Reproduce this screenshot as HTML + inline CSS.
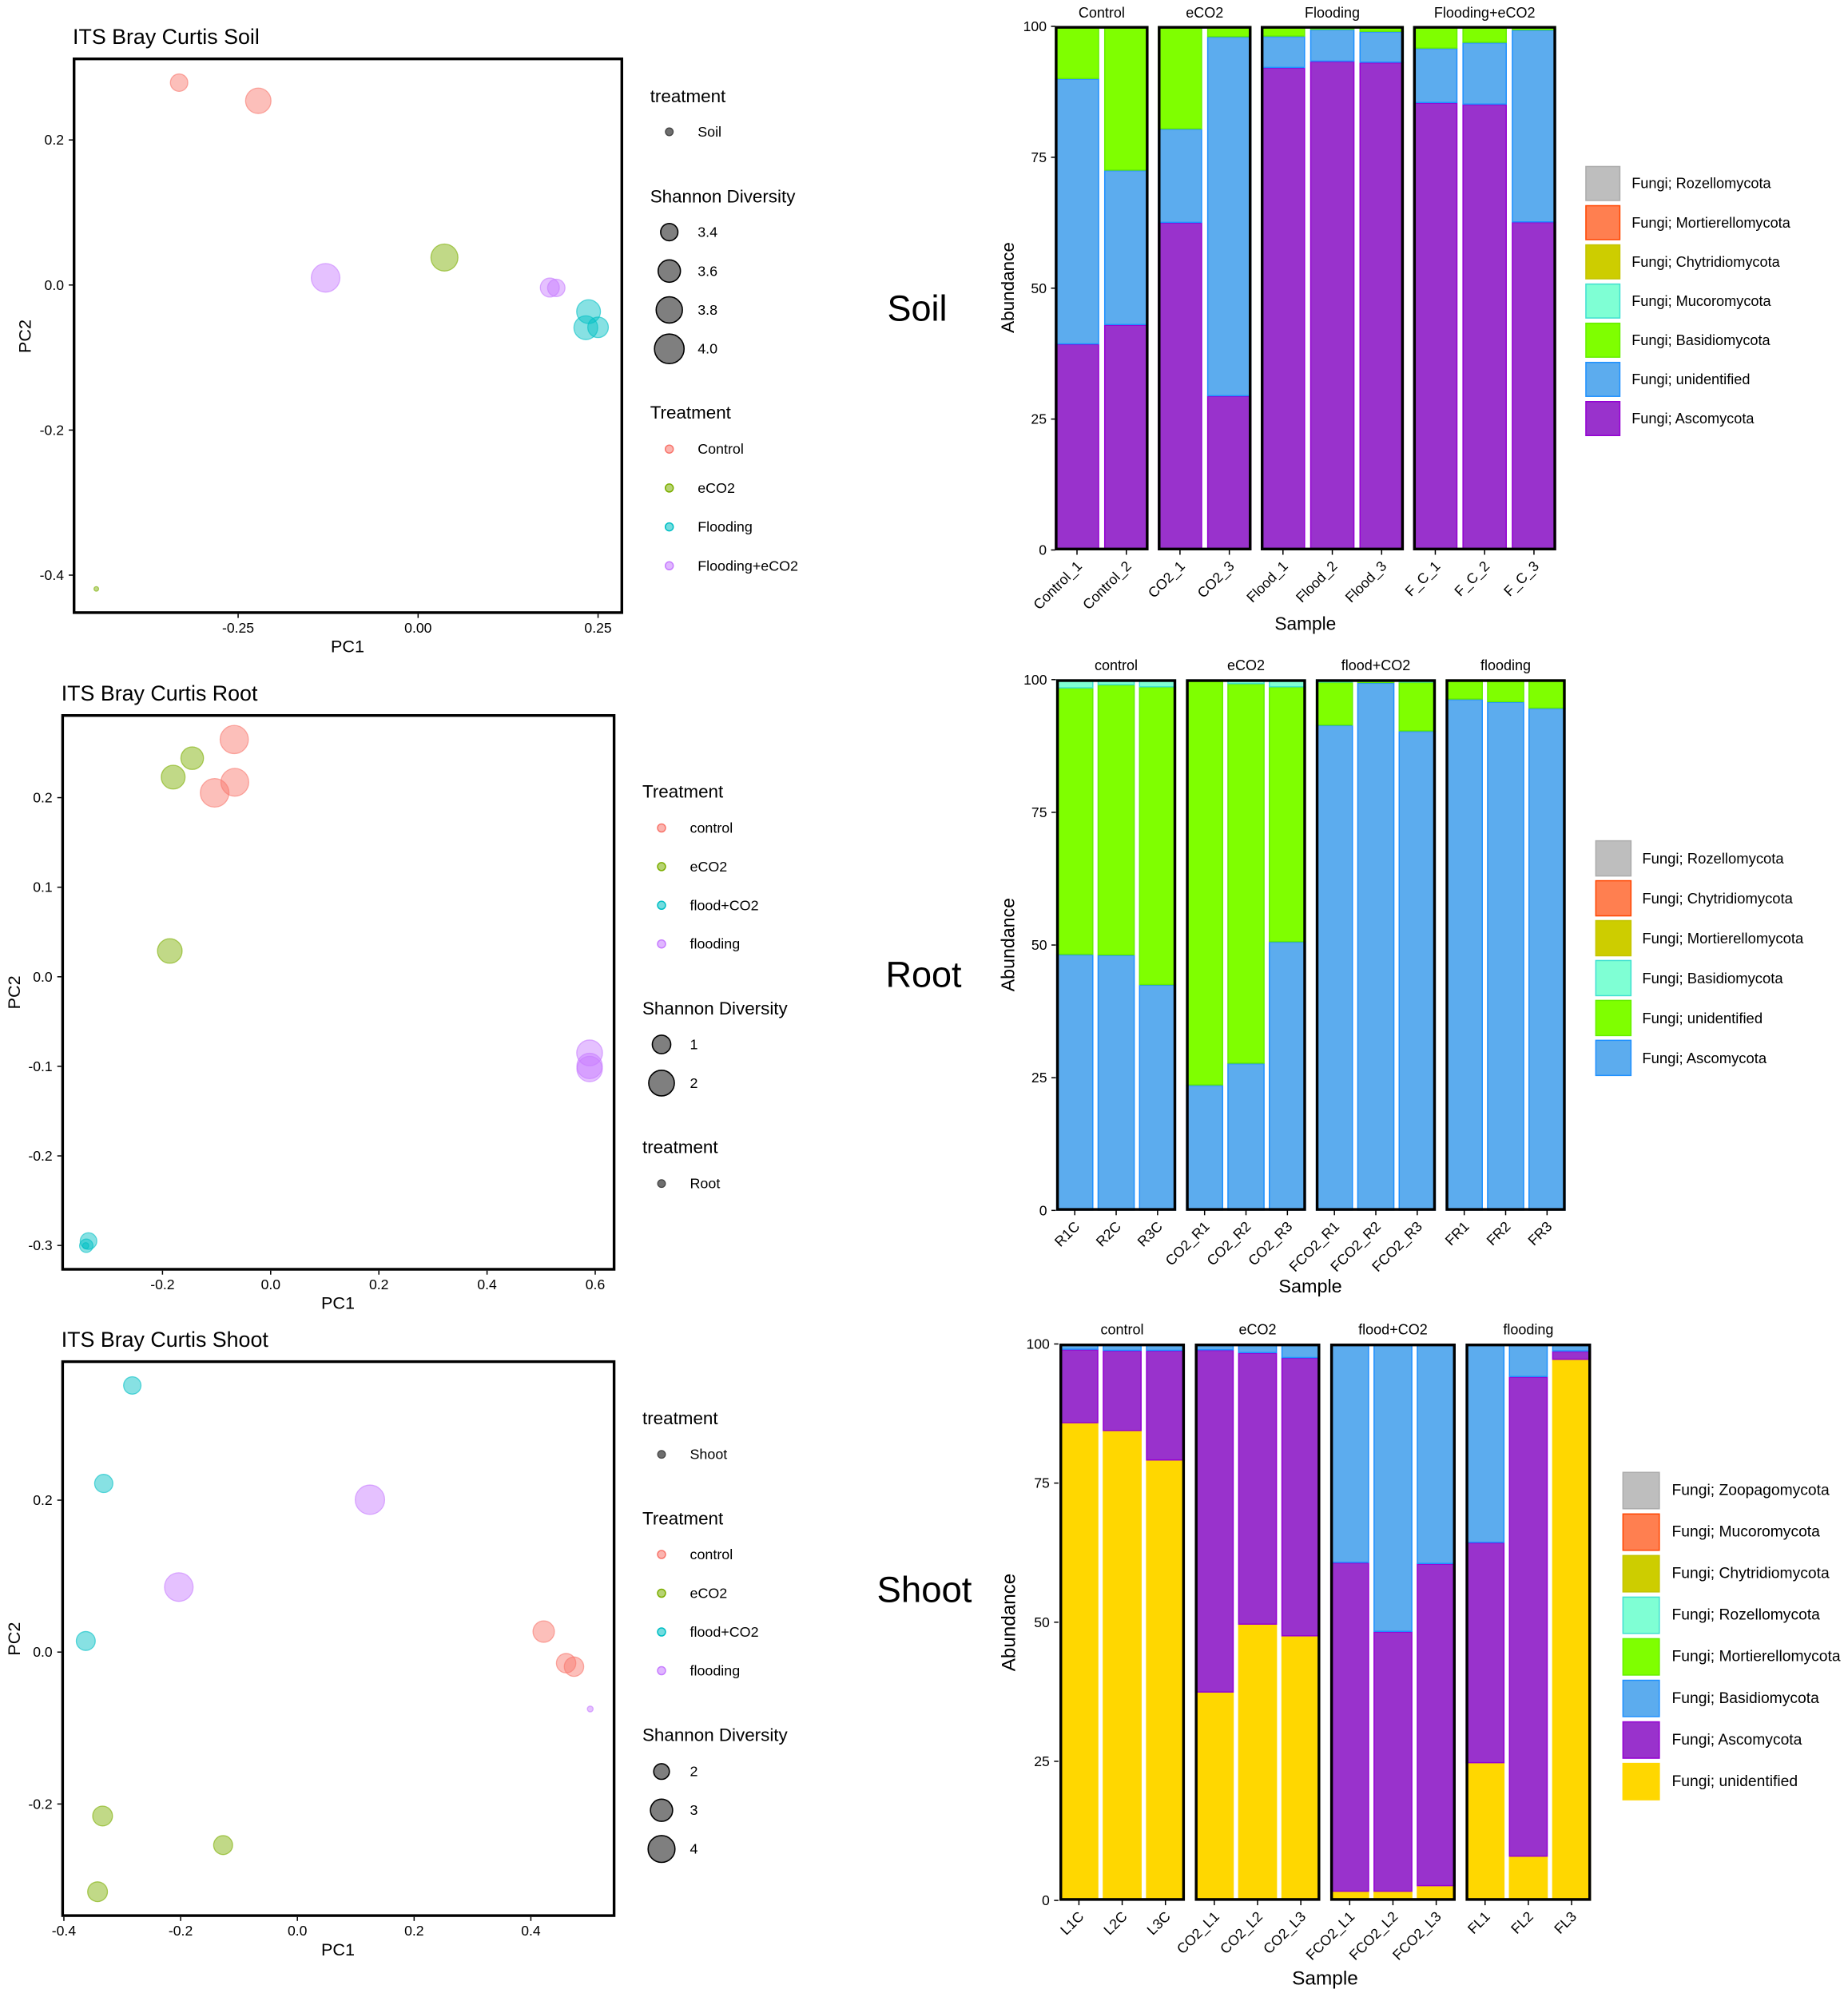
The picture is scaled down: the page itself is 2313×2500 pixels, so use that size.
<!DOCTYPE html>
<html lang="en">
<head>
<meta charset="utf-8">
<title>ITS Bray Curtis ordination and phylum abundance</title>
<style>
html,body{margin:0;padding:0;background:#fff;}
svg{display:block;}
text{font-family:"Liberation Sans",Arial,sans-serif;fill:#000;}
</style>
</head>
<body>
<svg id="figure" xmlns="http://www.w3.org/2000/svg" width="2313" height="2500" viewBox="0 0 2313 2500">
  <rect x="0" y="0" width="2313" height="2500" fill="#ffffff"/>
  <text x="1148" y="386" font-size="45" text-anchor="middle" dominant-baseline="central">Soil</text>
  <text x="1156" y="1220" font-size="45" text-anchor="middle" dominant-baseline="central">Root</text>
  <text x="1157" y="1990" font-size="45.5" text-anchor="middle" dominant-baseline="central">Shoot</text>
</svg>
<script>
// ---------- Soil PCoA ----------
const soilGroups = ['Control','Control','eCO2','eCO2','Flooding+eCO2','Flooding+eCO2','Flooding+eCO2','Flooding','Flooding','Flooding'];
const soilPc1 = [-0.332,-0.222,0.0366,-0.447,-0.1285,0.183,0.192,0.2368,0.233,0.25];
const soilPc2 = [0.279,0.254,0.0379,-0.419,0.0099,-0.0035,-0.004,-0.0367,-0.0589,-0.0583];
const soilShannon = [3.4,3.745,3.834,3.19,3.929,3.456,3.4,3.663,3.663,3.518];
const soilXTicks = [-0.25,0,0.25];
const soilXTickLabels = ['-0.25','0.00','0.25'];
const soilYTicks = [0.2,0,-0.2,-0.4];
const soilYTickLabels = ['0.2','0.0','-0.2','-0.4'];
const soilTreatments = ['Control','eCO2','Flooding','Flooding+eCO2'];
const soilShannonBreaks = [3.4,3.6,3.8,4.0];
const soilShannonLabels = ['3.4','3.6','3.8','4.0'];

// ---------- Root PCoA ----------
const rootGroups = ['control','control','control','eCO2','eCO2','eCO2','flooding','flooding','flooding','flood+CO2','flood+CO2','flood+CO2'];
const rootPc1 = [-0.0674,-0.0663,-0.1036,-0.1451,-0.1803,-0.1865,0.5896,0.5896,0.5896,-0.3368,-0.3409,-0.342];
const rootPc2 = [0.2649,0.2172,0.2054,0.2441,0.2229,0.0288,-0.085,-0.0996,-0.103,-0.2951,-0.3003,-0.3003];
const rootShannon = [2.425,2.35,2.5,1.505,1.68,1.805,2.0,1.934,1.934,0.795,0.532,0.237];
const rootXTicks = [-0.2,0,0.2,0.4,0.6];
const rootXTickLabels = ['-0.2','0.0','0.2','0.4','0.6'];
const rootYTicks = [0.2,0.1,0,-0.1,-0.2,-0.3];
const rootYTickLabels = ['0.2','0.1','0.0','-0.1','-0.2','-0.3'];
const rootTreatments = ['control','eCO2','flood+CO2','flooding'];
const rootShannonBreaks = [1,2];
const rootShannonLabels = ['1','2'];

// ---------- Shoot PCoA ----------
const shootGroups = ['flood+CO2','flood+CO2','flood+CO2','flooding','flooding','flooding','control','control','control','eCO2','eCO2','eCO2'];
const shootPc1 = [-0.2828,-0.3317,-0.3625,0.1243,-0.2031,0.5017,0.422,0.4604,0.4739,-0.3337,-0.1272,-0.3423];
const shootPc2 = [0.351,0.222,0.0146,0.2006,0.0856,-0.0749,0.027,-0.0146,-0.0192,-0.2158,-0.2541,-0.3155];
const shootShannon = [2.2,2.32,2.43,4.6,4.39,1.34,2.83,2.5,2.5,2.56,2.43,2.56];
const shootXTicks = [-0.4,-0.2,0,0.2,0.4];
const shootXTickLabels = ['-0.4','-0.2','0.0','0.2','0.4'];
const shootYTicks = [0.2,0,-0.2];
const shootYTickLabels = ['0.2','0.0','-0.2'];
const shootTreatments = ['control','eCO2','flood+CO2','flooding'];
const shootShannonBreaks = [2,3,4];
const shootShannonLabels = ['2','3','4'];

// ---------- Soil abundance ----------
const soilFacets = ['Control','eCO2','Flooding','Flooding+eCO2'];
const soilFacetSizes = [2,2,3,3];
const soilSamples = ['Control_1','Control_2','CO2_1','CO2_3','Flood_1','Flood_2','Flood_3','F_C_1','F_C_2','F_C_3'];
const soilAscomycota = [39.3,43,62.5,29.4,92.1,93.3,93.1,85.4,85.1,62.6];
const soilUnidentified = [50.7,29.5,17.9,68.6,6.0,6.1,5.9,10.4,11.8,36.7];
const soilBasidiomycota = [10,27.5,19.6,2,1.9,0.6,1,4.2,3.1,0.7];
const soilPhyla = ['Fungi; Rozellomycota','Fungi; Mortierellomycota','Fungi; Chytridiomycota','Fungi; Mucoromycota','Fungi; Basidiomycota','Fungi; unidentified','Fungi; Ascomycota'];

// ---------- Root abundance ----------
const rootFacets = ['control','eCO2','flood+CO2','flooding'];
const rootFacetSizes = [3,3,3,3];
const rootSamples = ['R1C','R2C','R3C','CO2_R1','CO2_R2','CO2_R3','FCO2_R1','FCO2_R2','FCO2_R3','FR1','FR2','FR3'];
const rootAscomycota = [48.2,48.1,42.5,23.6,27.7,50.6,91.4,99.4,90.3,96.3,95.8,94.6];
const rootUnidentified = [50.2,50.9,56.1,76.1,71.5,48,8.1,0.2,9.2,3.7,4.2,5.4];
const rootBasidiomycota = [1.6,1,1.4,0.3,0.8,1.4,0.5,0.4,0.5,0,0,0];
const rootPhyla = ['Fungi; Rozellomycota','Fungi; Chytridiomycota','Fungi; Mortierellomycota','Fungi; Basidiomycota','Fungi; unidentified','Fungi; Ascomycota'];

// ---------- Shoot abundance ----------
const shootFacets = ['control','eCO2','flood+CO2','flooding'];
const shootFacetSizes = [3,3,3,3];
const shootSamples = ['L1C','L2C','L3C','CO2_L1','CO2_L2','CO2_L3','FCO2_L1','FCO2_L2','FCO2_L3','FL1','FL2','FL3'];
const shootUnidentified = [85.8,84.4,79.1,37.4,49.6,47.5,1.6,1.6,2.6,24.7,7.9,97.2];
const shootAscomycota = [13.2,14.4,19.7,61.5,48.8,50,59.1,46.7,57.9,39.6,86.2,1.5];
const shootBasidiomycota = [1,1.2,1.2,1.1,1.6,2.5,39.3,51.7,39.5,35.7,5.9,1.3];
const shootPhyla = ['Fungi; Zoopagomycota','Fungi; Mucoromycota','Fungi; Chytridiomycota','Fungi; Rozellomycota','Fungi; Mortierellomycota','Fungi; Basidiomycota','Fungi; Ascomycota','Fungi; unidentified'];

// ---------- Drawing ----------
const NS = 'http://www.w3.org/2000/svg';
const svg = document.getElementById('figure');
const TREATMENT_COLORS = {0:'#F8766D',1:'#7CAE00',2:'#00BFC4',3:'#C77CFF'};
const FILLS = {
  grey:['#BEBEBE','#ABABAB'], coral:['#FF7F50','#FF4500'], olive:['#CDCD00','#C4C400'],
  aqua:['#7FFFD4','#40E0D0'], lime:['#7FFF00','#66EE00'], blue:['#5CACEE','#1E90FF'],
  purple:['#9932CC','#9400D3'], gold:['#FFD700','#FFD700']
};

function shape(tag, name, attrs, parent) {
  const el = document.createElementNS(NS, tag);
  for (const k in attrs) el.setAttribute(k, attrs[k]);
  
  
  (parent || svg).appendChild(el);
  return el;
}
function label(str, name, x, y, size, anchor, rotate, parent) {
  const el = document.createElementNS(NS, 'text');
  el.setAttribute('x', x);
  el.setAttribute('y', y);
  el.setAttribute('font-size', size);
  el.setAttribute('text-anchor', anchor || 'start');
  el.setAttribute('dominant-baseline', 'central');
  if (rotate) el.setAttribute('transform', 'rotate(' + rotate + ' ' + x + ' ' + y + ')');
  el.textContent = str;
  
  
  (parent || svg).appendChild(el);
  return el;
}
function group(name) {
  const g = document.createElementNS(NS, 'g');
  
  
  svg.appendChild(g);
  return g;
}
function frame(name, left, right, top, bottom, parent) {
  shape('rect', name, {x:left+1.7, y:top+1.7, width:right-left-3.4, height:bottom-top-3.4, fill:'none', stroke:'#000', 'stroke-width':3.4}, parent);
}

function scatterPanel(o) {
  const g = group(o.id + '-pcoa');
  const xOf = v => o.x0 + v * o.ux;
  const yOf = v => o.y0 - v * o.uy;
  const sizeOf = v => 7 + o.k * Math.sqrt(Math.max(0, v - o.v0));
  label(o.title, o.id + '-pcoa-title', o.left, o.titleY, 26.8, 'start', 0, g);
  o.pc1.forEach((v, i) => {
    const idx = o.treatments.indexOf(o.groups[i]);
    const color = TREATMENT_COLORS[idx];
    shape('circle', 'point-' + o.id, {cx:xOf(v), cy:yOf(o.pc2[i]), r:sizeOf(o.shannon[i]) / 2 - 0.6, fill:color, 'fill-opacity':0.47, stroke:color, 'stroke-opacity':0.6, 'stroke-width':1.3}, g);
  });
  frame(o.id + '-pcoa-frame', o.left, o.right, o.top, o.bottom, g);
  o.xTicks.forEach((v, i) => {
    shape('line', 'x-tick', {x1:xOf(v), x2:xOf(v), y1:o.bottom, y2:o.bottom + 5, stroke:'#000', 'stroke-width':1.5}, g);
    label(o.xTickLabels[i], 'x-tick-label', xOf(v), o.xTickY, 17.6, 'middle', 0, g);
  });
  o.yTicks.forEach((v, i) => {
    shape('line', 'y-tick', {x1:o.left - 5, x2:o.left, y1:yOf(v), y2:yOf(v), stroke:'#000', 'stroke-width':1.5}, g);
    label(o.yTickLabels[i], 'y-tick-label', o.left - 11, yOf(v), 17.6, 'end', 0, g);
  });
  label('PC1', 'x-axis-title', o.xTitleX, o.xTitleY, 21.6, 'middle', 0, g);
  label('PC2', 'y-axis-title', o.yTitleX, o.yTitleY, 21.6, 'middle', -90, g);
  const lg = group(o.id + '-pcoa-legend');
  label('treatment', 'legend-title-tissue', o.legendX, o.tissueTitleY, 22.4, 'start', 0, lg);
  shape('circle', 'legend-key-tissue', {cx:o.legendX + 24, cy:o.tissueRowY, r:4.8, fill:'#6e6e6e', stroke:'#444', 'stroke-width':1.3}, lg);
  label(o.tissue, 'legend-label-tissue', o.legendX + 59.5, o.tissueRowY, 17.9, 'start', 0, lg);
  label('Shannon Diversity', 'legend-title-shannon', o.legendX, o.shannonTitleY, 22.4, 'start', 0, lg);
  o.shannonBreaks.forEach((v, i) => {
    const y = o.shannonRowY + i * o.rowStep;
    shape('circle', 'legend-key-shannon', {cx:o.legendX + 24, cy:y, r:sizeOf(v) / 2 - 0.7, fill:'#7f7f7f', stroke:'#000', 'stroke-width':1.6}, lg);
    label(o.shannonLabels[i], 'legend-label-shannon', o.legendX + 59.5, y, 17.9, 'start', 0, lg);
  });
  label('Treatment', 'legend-title-treatment', o.legendX, o.treatTitleY, 22.4, 'start', 0, lg);
  o.treatments.forEach((t, i) => {
    const y = o.treatRowY + i * o.rowStep;
    shape('circle', 'legend-key-treatment', {cx:o.legendX + 24, cy:y, r:5, fill:TREATMENT_COLORS[i], 'fill-opacity':0.55, stroke:TREATMENT_COLORS[i], 'stroke-width':1.5}, lg);
    label(t, 'legend-label-treatment', o.legendX + 59.5, y, 17.9, 'start', 0, lg);
  });
}

function barPanel(o) {
  const g = group(o.id + '-abundance');
  const yOf = v => o.y0 - v * o.uy;
  const half = o.unit * 0.45;
  let idx = 0;
  const xOf = (facet, i) => o.x0 + i * o.unit + facet * o.gap;
  o.facets.forEach((facet, f) => {
    const first = idx;
    const last = idx + o.facetSizes[f] - 1;
    const fg = group(o.id + '-facet-' + f);
    for (let s = first; s <= last; s++) {
      const cx = xOf(f, s);
      let base = 0;
      o.series.forEach(se => {
        const v = se.values[s];
        if (v > 0) {
          const c = FILLS[se.color];
          shape('rect', 'bar-segment-' + se.name, {x:cx - half + 0.75, y:yOf(base + v) + 0.4, width:half * 2 - 1.5, height:Math.max(0, yOf(base) - yOf(base + v) - 0.8), fill:c[0], stroke:c[1], 'stroke-width':1.5}, fg);
        }
        base += v;
      });
      shape('line', 'x-tick', {x1:cx, x2:cx, y1:o.y0, y2:o.y0 + 6, stroke:'#000', 'stroke-width':1.5}, fg);
      label(o.samples[s], 'x-tick-label', cx + o.labelDx, o.y0 + o.labelDy, 17.8, 'end', -45, fg);
    }
    const left = xOf(f, first) - half;
    const right = xOf(f, last) + half;
    frame('facet-frame', left, right, yOf(100) - 0.5, o.y0 + 0.5, fg);
    label(facet, 'facet-strip-label', (left + right) / 2, o.stripY, 18, 'middle', 0, fg);
    idx = last + 1;
  });
  o.yTicks.forEach(v => {
    shape('line', 'y-tick', {x1:o.axisX - 5.5, x2:o.axisX, y1:yOf(v), y2:yOf(v), stroke:'#000', 'stroke-width':1.5}, g);
    label(String(v), 'y-tick-label', o.axisX - 11, yOf(v), 17.6, 'end', 0, g);
  });
  label('Abundance', 'y-axis-title', o.yTitleX, o.yTitleY, o.titleSize, 'middle', -90, g);
  label('Sample', 'x-axis-title', o.xTitleX, o.xTitleY, o.titleSize + 0.2, 'middle', 0, g);
  const lg = group(o.id + '-abundance-legend');
  o.phyla.forEach((p, i) => {
    const c = FILLS[o.legendColors[i]];
    const cy = o.legendY + i * o.legendStep;
    shape('rect', 'legend-swatch', {x:o.legendX + 0.75, y:cy - o.keySize / 2 + 0.75, width:o.keySize - 1.5, height:o.keySize - 1.5, fill:c[0], stroke:c[1], 'stroke-width':1.5}, lg);
    label(p, 'legend-label', o.legendLabelX, cy, o.legendFont, 'start', 0, lg);
  });
}

scatterPanel({id:'soil', title:'ITS Bray Curtis Soil', tissue:'Soil', titleY:46,
  groups:soilGroups, pc1:soilPc1, pc2:soilPc2, shannon:soilShannon, treatments:soilTreatments,
  xTicks:soilXTicks, xTickLabels:soilXTickLabels, yTicks:soilYTicks, yTickLabels:soilYTickLabels,
  shannonBreaks:soilShannonBreaks, shannonLabels:soilShannonLabels,
  x0:523.3, ux:901, y0:356.8, uy:908, k:34.9, v0:3.19,
  left:91, right:780, top:72, bottom:768.6, xTickY:786, xTitleX:435, xTitleY:809, yTitleX:31, yTitleY:421,
  legendX:813.7, tissueTitleY:120.7, tissueRowY:165, shannonTitleY:246, shannonRowY:290.6, rowStep:48.7, treatTitleY:516.7, treatRowY:562.2});

scatterPanel({id:'root', title:'ITS Bray Curtis Root', tissue:'Root', titleY:868,
  groups:rootGroups, pc1:rootPc1, pc2:rootPc2, shannon:rootShannon, treatments:rootTreatments,
  xTicks:rootXTicks, xTickLabels:rootXTickLabels, yTicks:rootYTicks, yTickLabels:rootYTickLabels,
  shannonBreaks:rootShannonBreaks, shannonLabels:rootShannonLabels,
  x0:338.8, ux:677, y0:1222.8, uy:1121.2, k:19.9, v0:0.227,
  left:76.7, right:770.3, top:894, bottom:1590.7, xTickY:1608, xTitleX:423, xTitleY:1631, yTitleX:17.5, yTitleY:1242.4,
  legendX:804, tissueTitleY:1436, tissueRowY:1481.7, shannonTitleY:1262.5, shannonRowY:1307.5, rowStep:48.4, treatTitleY:991, treatRowY:1036.5});

scatterPanel({id:'shoot', title:'ITS Bray Curtis Shoot', tissue:'Shoot', titleY:1677,
  groups:shootGroups, pc1:shootPc1, pc2:shootPc2, shannon:shootShannon, treatments:shootTreatments,
  xTicks:shootXTicks, xTickLabels:shootXTickLabels, yTicks:shootYTicks, yTickLabels:shootYTickLabels,
  shannonBreaks:shootShannonBreaks, shannonLabels:shootShannonLabels,
  x0:372.2, ux:730.6, y0:2068.2, uy:950.9, k:17.15, v0:1.333,
  left:76.7, right:770.3, top:1702.9, bottom:2399.8, xTickY:2417, xTitleX:423, xTitleY:2440.5, yTitleX:17.5, yTitleY:2051.6,
  legendX:804, tissueTitleY:1775.7, tissueRowY:1820.7, shannonTitleY:2172, shannonRowY:2217.7, rowStep:48.5, treatTitleY:1901, treatRowY:1946});

barPanel({id:'soil', facets:soilFacets, facetSizes:soilFacetSizes, samples:soilSamples,
  series:[{name:'ascomycota', color:'purple', values:soilAscomycota},{name:'unidentified', color:'blue', values:soilUnidentified},{name:'basidiomycota', color:'lime', values:soilBasidiomycota}],
  phyla:soilPhyla, legendColors:['grey','coral','olive','aqua','lime','blue','purple'],
  yTicks:[0,25,50,75,100], x0:1348, unit:61.75, gap:5.4, y0:688.5, uy:6.555, axisX:1321, stripY:16,
  labelDx:3, labelDy:17, yTitleX:1261.7, yTitleY:360, titleSize:22.5, xTitleX:1633.8, xTitleY:780.3,
  legendX:1984.2, legendY:229.7, legendStep:49.05, keySize:44, legendLabelX:2042.2, legendFont:18.15});

barPanel({id:'root', facets:rootFacets, facetSizes:rootFacetSizes, samples:rootSamples,
  series:[{name:'ascomycota', color:'blue', values:rootAscomycota},{name:'unidentified', color:'lime', values:rootUnidentified},{name:'basidiomycota', color:'aqua', values:rootBasidiomycota}],
  phyla:rootPhyla, legendColors:['grey','coral','olive','aqua','lime','blue'],
  yTicks:[0,25,50,75,100], x0:1345.2, unit:51.83, gap:7, y0:1515.3, uy:6.645, axisX:1321.5, stripY:833,
  labelDx:3, labelDy:17, yTitleX:1261.7, yTitleY:1182.6, titleSize:23.2, xTitleX:1640, xTitleY:1610,
  legendX:1996.6, legendY:1074.6, legendStep:49.95, keySize:45.5, legendLabelX:2055.4, legendFont:18.45});

barPanel({id:'shoot', facets:shootFacets, facetSizes:shootFacetSizes, samples:shootSamples,
  series:[{name:'unidentified', color:'gold', values:shootUnidentified},{name:'ascomycota', color:'purple', values:shootAscomycota},{name:'basidiomycota', color:'blue', values:shootBasidiomycota}],
  phyla:shootPhyla, legendColors:['grey','coral','olive','aqua','lime','blue','purple','gold'],
  yTicks:[0,25,50,75,100], x0:1350.4, unit:54.15, gap:7, y0:2379.1, uy:6.966, axisX:1324.8, stripY:1664.6,
  labelDx:3, labelDy:17, yTitleX:1263.2, yTitleY:2031, titleSize:24.2, xTitleX:1658.5, xTitleY:2477,
  legendX:2030.6, legendY:1866, legendStep:52.05, keySize:47, legendLabelX:2092.5, legendFont:19.3});
</script>
</body>
</html>
